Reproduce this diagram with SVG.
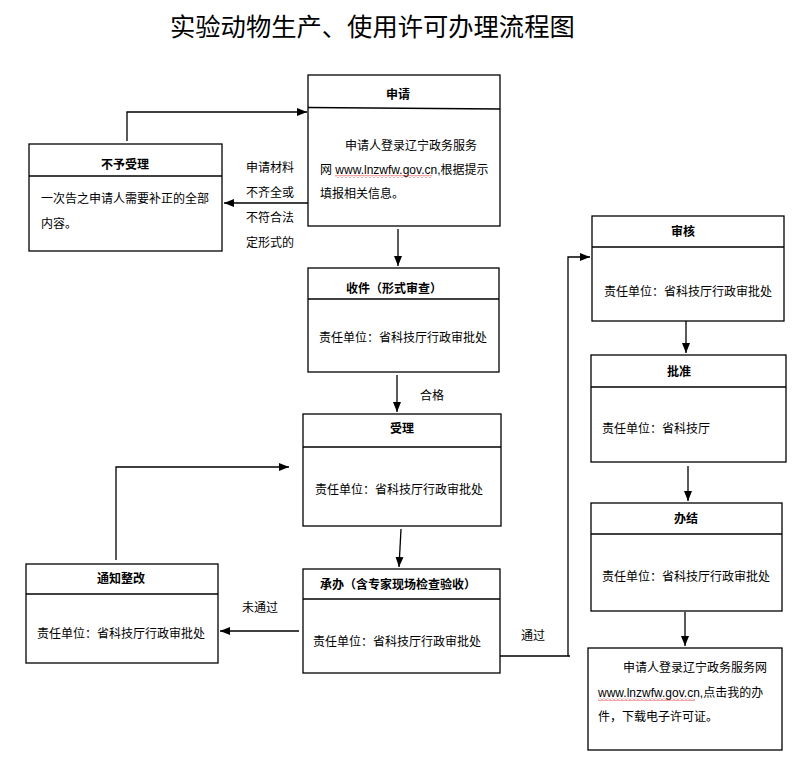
<svg xmlns="http://www.w3.org/2000/svg" width="807" height="759" viewBox="0 0 807 759">
<defs>
<style>
text{font-family:"Liberation Sans","Noto Sans CJK SC",sans-serif;font-size:12px;fill:#000}
.h{font-weight:bold;text-anchor:middle}
.title{font-size:25.3px}
.box{fill:#fff;stroke:#000;stroke-width:1.3}
.div{stroke:#000;stroke-width:1.3}
.con{fill:none;stroke:#000;stroke-width:1.3;marker-end:url(#arr)}
.lin{fill:none;stroke:#000;stroke-width:1.3}
</style>
<marker id="arr" markerUnits="userSpaceOnUse" markerWidth="10" markerHeight="8" refX="10" refY="4" orient="auto">
<path d="M0,0 L10,4 L0,8 z" fill="#000"/>
</marker>
<pattern id="wavy" patternUnits="userSpaceOnUse" width="4" height="3">
<path d="M0,2.5 L2,0.5 L4,2.5" fill="none" stroke="#e02020" stroke-width="0.8"/>
</pattern>
</defs>
<rect width="807" height="759" fill="#fff"/>
<text class="title" x="170" y="36">实验动物生产、使用许可办理流程图</text>

<g id="connectors">
<path class="con" d="M127,141 V112 H307"/>
<path class="con" d="M308,203 H224"/>
<path class="con" d="M398,229 V266"/>
<path class="con" d="M397,375 V412"/>
<path class="con" d="M401,529 L399,567"/>
<path class="con" d="M299,631 H220"/>
<path class="con" d="M116,560 V467 H289"/>
<path class="con" d="M500,656 H568 V257 H590"/>
<path class="lin" d="M568,656 H570"/>
<path class="con" d="M686,321 V353"/>
<path class="con" d="M688,466 V501"/>
<path class="con" d="M685,612 V646"/>
<text x="246" y="171.5">申请材料</text>
<text x="246" y="196.5">不齐全或</text>
<text x="246" y="221.5">不符合法</text>
<text x="246" y="246.5">定形式的</text>
<text x="420" y="399.5">合格</text>
<text x="242" y="611.5">未通过</text>
<text x="521" y="639.5">通过</text>
</g>

<g id="shenqing">
<rect class="box" x="308" y="75" width="192" height="151"/>
<line class="div" x1="308" y1="107.5" x2="500" y2="109"/>
<text class="h" x="398" y="98.5">申请</text>
<text x="345" y="149.5">申请人登录辽宁政务服务</text>
<text x="320" y="173.5">网 www.lnzwfw.gov.cn,根据提示</text>
<rect x="335" y="175" width="97" height="3" fill="url(#wavy)"/>
<text x="320" y="197.5">填报相关信息。</text>
</g>

<g id="buyushouli">
<rect class="box" x="29" y="144" width="193" height="107"/>
<line class="div" x1="29" y1="176" x2="222" y2="176"/>
<text class="h" x="125" y="168.5">不予受理</text>
<text x="41" y="202.5">一次告之申请人需要补正的全部</text>
<text x="41" y="227.5">内容。</text>
</g>

<g id="shoujian">
<rect class="box" x="308" y="268" width="191" height="104"/>
<line class="div" x1="308" y1="299" x2="499" y2="299"/>
<text class="h" x="394" y="292.5">收件（形式审查）</text>
<text x="319" y="341.5">责任单位：省科技厅行政审批处</text>
</g>

<g id="shouli">
<rect class="box" x="303" y="414" width="198" height="112"/>
<line class="div" x1="303" y1="447" x2="501" y2="447"/>
<text class="h" x="402" y="432.5">受理</text>
<text x="315" y="493.5">责任单位：省科技厅行政审批处</text>
</g>

<g id="chengban">
<rect class="box" x="303" y="569" width="197" height="104"/>
<line class="div" x1="303" y1="599" x2="500" y2="599"/>
<text class="h" x="398" y="588.5">承办（含专家现场检查验收）</text>
<text x="313" y="645.5">责任单位：省科技厅行政审批处</text>
</g>

<g id="tongzhizhenggai">
<rect class="box" x="26" y="564" width="192" height="99"/>
<line class="div" x1="26" y1="594" x2="218" y2="594"/>
<text class="h" x="121" y="582.5">通知整改</text>
<text x="37" y="637.5">责任单位：省科技厅行政审批处</text>
</g>

<g id="shenhe">
<rect class="box" x="592" y="216" width="192" height="105"/>
<line class="div" x1="592" y1="247" x2="784" y2="247"/>
<text class="h" x="683" y="235.5">审核</text>
<text x="604" y="295.5">责任单位：省科技厅行政审批处</text>
</g>

<g id="pizhun">
<rect class="box" x="591" y="355" width="195" height="107"/>
<line class="div" x1="591" y1="387" x2="786" y2="387"/>
<text class="h" x="679" y="375.5">批准</text>
<text x="602" y="432.5">责任单位：省科技厅</text>
</g>

<g id="banjie">
<rect class="box" x="591" y="503" width="191" height="108"/>
<line class="div" x1="591" y1="534" x2="782" y2="534"/>
<text class="h" x="686" y="522.5">办结</text>
<text x="602" y="580.5">责任单位：省科技厅行政审批处</text>
</g>

<g id="xiazai">
<rect class="box" x="588" y="648" width="194" height="102"/>
<text x="623" y="671.5">申请人登录辽宁政务服务网</text>
<text x="598" y="696.5">www.lnzwfw.gov.cn,点击我的办</text>
<rect x="598" y="698" width="97" height="3" fill="url(#wavy)"/>
<text x="598" y="720.5">件，下载电子许可证。</text>
</g>
</svg>
